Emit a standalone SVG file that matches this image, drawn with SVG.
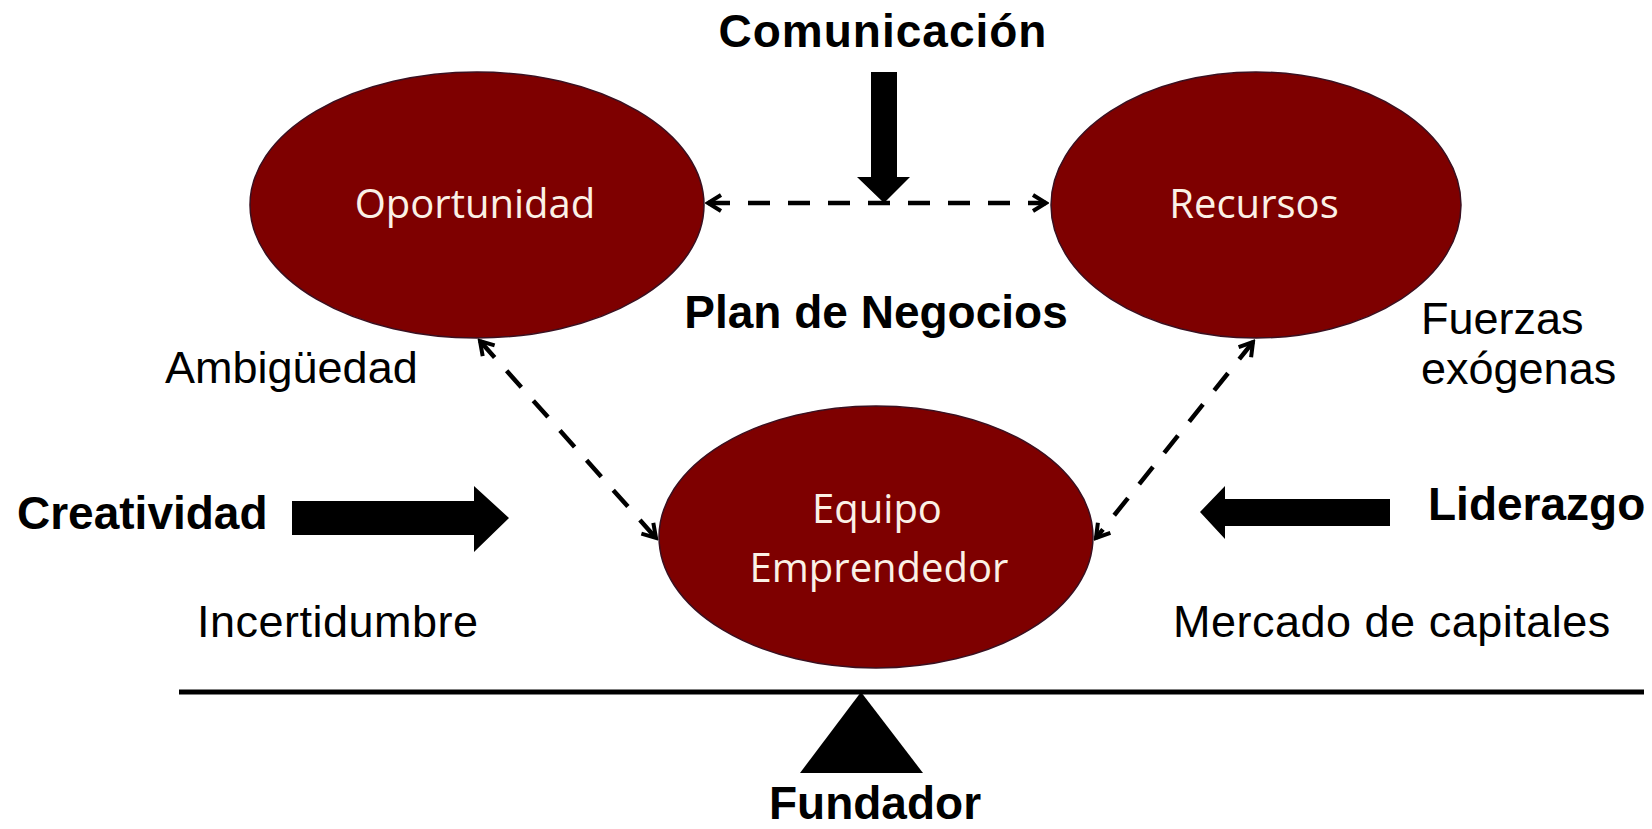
<svg xmlns="http://www.w3.org/2000/svg" width="1652" height="829" viewBox="0 0 1652 829">
<style>
.node{fill:#7e0000;stroke:#3a1020;stroke-width:1.5}
.nt{font-family:"Open Sans","Liberation Sans",sans-serif;font-size:40px;fill:#fbf1e6;text-anchor:middle}
.b{font-family:"Liberation Sans",Arial,sans-serif;font-weight:bold;font-size:46px;fill:#000}
.r{font-family:"Liberation Sans",Arial,sans-serif;font-size:45px;fill:#000}
.dash{stroke:#000;stroke-width:4.5;stroke-dasharray:22 18;fill:none;marker-start:url(#chev);marker-end:url(#chev)}
.blk{fill:#000}
</style>
<defs>
<marker id="chev" markerUnits="userSpaceOnUse" viewBox="0 0 24 24" refX="21" refY="12" markerWidth="24" markerHeight="24" orient="auto-start-reverse">
<path d="M8,4 L21,12 L8,20" fill="none" stroke="#000" stroke-width="4" stroke-linejoin="miter"/>
</marker>
</defs>
<rect width="1652" height="829" fill="#fff"/>

<g id="oportunidad">
<ellipse class="node" cx="477" cy="205" rx="227" ry="133"/>
<text class="nt" x="475" y="218">Oportunidad</text>
</g>
<g id="recursos">
<ellipse class="node" cx="1256" cy="205" rx="205" ry="133"/>
<text class="nt" x="1254" y="218">Recursos</text>
</g>
<g id="equipo">
<ellipse class="node" cx="876" cy="537" rx="217" ry="131"/>
<text class="nt" x="877" y="523">Equipo</text>
<text class="nt" x="879" y="582">Emprendedor</text>
</g>

<g id="connectors">
<line class="dash" x1="708" y1="203" x2="1046" y2="203"/>
<line class="dash" x1="480" y1="341" x2="656" y2="538"/>
<line class="dash" x1="1253" y1="342" x2="1096" y2="538"/>
<polygon class="blk" points="871,72 897,72 897,177 910,177 884,203 857,177 871,177"/>
<polygon class="blk" points="292,501 474,501 474,486 509,518 474,552 474,535 292,535"/>
<polygon class="blk" points="1390,499 1225,499 1225,486 1200,512 1225,539 1225,526 1390,526"/>
</g>

<g id="balance">
<line x1="179" y1="692" x2="1644" y2="692" stroke="#000" stroke-width="5"/>
<polygon class="blk" points="861,692 923,773 800,773"/>
</g>

<g id="labels">
<text class="b" x="883" y="47" text-anchor="middle" font-size="44" letter-spacing="1">Comunicación</text>
<text class="b" x="876" y="328" text-anchor="middle">Plan de Negocios</text>
<text class="b" x="17" y="529">Creatividad</text>
<text class="b" x="1428" y="520">Liderazgo</text>
<text class="b" x="875" y="819" text-anchor="middle">Fundador</text>
<text class="r" x="165" y="383">Ambigüedad</text>
<text class="r" x="197" y="637" letter-spacing="0.5">Incertidumbre</text>
<text class="r" x="1421" y="334">Fuerzas</text>
<text class="r" x="1421" y="384">exógenas</text>
<text class="r" x="1173" y="637" letter-spacing="0.5">Mercado de capitales</text>
</g>
</svg>
